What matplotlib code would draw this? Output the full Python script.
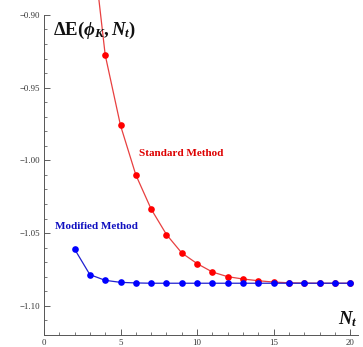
import numpy as np
import matplotlib
matplotlib.use('Agg')
import matplotlib.pyplot as plt
from matplotlib.ticker import MultipleLocator, FuncFormatter

plt.rcParams['mathtext.fontset'] = 'custom'
plt.rcParams['mathtext.rm'] = 'Liberation Serif:bold'
plt.rcParams['mathtext.it'] = 'Liberation Serif:bold:italic'
plt.rcParams['mathtext.bf'] = 'Liberation Serif:bold'

Nt = [2, 3, 4, 5, 6, 7, 8, 9, 10, 11, 12, 13, 14, 15, 16, 17, 18, 19, 20]
standard = [-0.70, -0.835, -0.9275, -0.976, -1.010, -1.0335, -1.051, -1.0637, -1.071,
            -1.0768, -1.080, -1.0816, -1.0828, -1.0837, -1.0842, -1.0844, -1.0845,
            -1.0845, -1.0845]
modified = [-1.061, -1.0786, -1.0825, -1.0839, -1.0843, -1.0845, -1.0845, -1.0845,
            -1.0845, -1.0845, -1.0845, -1.0845, -1.0845, -1.0845, -1.0845, -1.0845,
            -1.0845, -1.0845, -1.0845]

fig = plt.figure(figsize=(3.63, 3.47), dpi=100)
ax = fig.add_axes([0.121, 0.035, 0.865, 0.922])

ax.plot(Nt, standard, '-', color='#e84040', lw=0.9, clip_on=False, zorder=2)
ax.plot(Nt, standard, 'o', color='#ff0000', ms=4.8, mec='none', clip_on=False, zorder=3)
ax.plot(Nt, modified, '-', color='#2020d0', lw=0.9, zorder=4)
ax.plot(Nt, modified, 'o', color='#0000ff', ms=4.8, mec='none', zorder=5)

ax.set_xlim(0, 20.5)
ax.set_ylim(-1.12, -0.90)

ax.xaxis.set_major_locator(MultipleLocator(5))
ax.xaxis.set_minor_locator(MultipleLocator(1))
ax.yaxis.set_major_locator(MultipleLocator(0.05))
ax.yaxis.set_minor_locator(MultipleLocator(0.01))
ax.yaxis.set_major_formatter(FuncFormatter(lambda v, p: '\u2212%.2f' % abs(v)))
ax.tick_params(which='both', direction='in', top=False, right=False,
               labelsize=6.3, colors='#444444', labelcolor='#333333')
ax.tick_params(which='major', length=4, width=0.6, pad=3)
ax.tick_params(which='minor', length=2.2, width=0.5)
for t in ax.get_xticklabels() + ax.get_yticklabels():
    t.set_family('Liberation Serif')

for s in ['top', 'right']:
    ax.spines[s].set_visible(False)
for s in ['left', 'bottom']:
    ax.spines[s].set_color('#555555')
    ax.spines[s].set_linewidth(0.7)

ax.text(0.6, -0.9105, r'$\Delta\mathrm{E}(\phi_K, N_t)$', fontsize=13.5, color='#111111',
        ha='left', va='center')
ax.text(19.2, -1.1095, r'$N_t$', fontsize=13.5, color='#111111', ha='left', va='center')

ax.text(6.2, -0.9955, 'Standard Method', family='Liberation Serif', weight='bold',
        fontsize=8, color='#dd0000', ha='left', va='center')
ax.text(0.7, -1.0455, 'Modified Method', family='Liberation Serif', weight='bold',
        fontsize=8, color='#1010c0', ha='left', va='center')

fig.savefig('out.png', dpi=100)
